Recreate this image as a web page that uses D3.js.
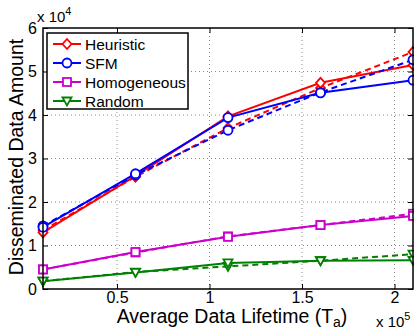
<!DOCTYPE html>
<html><head><meta charset="utf-8">
<script src="https://cdn.jsdelivr.net/npm/d3@7"></script>
<style>body{margin:0;background:#fff}svg{display:block}text{font-family:"Liberation Sans",Arial,sans-serif;fill:#000}</style>
</head><body>
<svg id="c" width="414" height="332"></svg>
<script>
const xValues = [0.1, 0.6, 1.1, 1.6, 2.1]; // x 10^5
const xTicks = [0.5, 1, 1.5, 2];
const yTicks = [0, 1, 2, 3, 4, 5, 6]; // x 10^4
const heuristicSolid = [1.30, 2.60, 3.97, 4.74, 5.15];
const heuristicDashed = [1.35, 2.58, 3.70, 4.62, 5.45];
const sfmSolid = [1.42, 2.65, 3.94, 4.51, 4.80];
const sfmDashed = [1.45, 2.62, 3.65, 4.52, 5.27];
const homoSolid = [0.45, 0.85, 1.20, 1.47, 1.68];
const homoDashed = [0.45, 0.84, 1.21, 1.47, 1.73];
const randomSolid = [0.18, 0.38, 0.60, 0.65, 0.66];
const randomDashed = [0.18, 0.39, 0.52, 0.65, 0.80];
const seriesNames = ["Heuristic", "SFM", "Homogeneous", "Random"];
const colors = ["#ff0000", "#0000ff", "#cc00cc", "#008000"];
const markers = ["diamond", "circle", "square", "triangle"];

const svg = d3.select("#c");
const L = 43, R = 413, T = 28, B = 289;
const x = d3.scaleLinear().domain([0.1, 2.1]).range([L, R]);
const y = d3.scaleLinear().domain([0, 6]).range([B, T]);

// grid
const g = svg.append("g");
g.selectAll(".gx").data(xTicks).join("line")
  .attr("x1", d => x(d)).attr("x2", d => x(d)).attr("y1", T).attr("y2", B)
  .attr("stroke", "#888").attr("stroke-width", 1).attr("stroke-dasharray", "1,3");
g.selectAll(".gy").data(yTicks.slice(1, -1)).join("line")
  .attr("x1", L).attr("x2", R).attr("y1", d => y(d)).attr("y2", d => y(d))
  .attr("stroke", "#888").attr("stroke-width", 1).attr("stroke-dasharray", "1,3");

// axes
const xAxis = d3.axisBottom(x).tickValues(xTicks).tickSize(-5).tickPadding(3).tickFormat(d => d3.format("")(d));
const yAxis = d3.axisLeft(y).tickValues(yTicks).tickSize(-5).tickPadding(6).tickFormat(d3.format("d"));
const gx = svg.append("g").attr("transform", `translate(0,${B})`).call(xAxis);
const gy = svg.append("g").attr("transform", `translate(${L},0)`).call(yAxis);
[gx, gy].forEach(a => { a.select(".domain").remove(); a.selectAll("text").style("font-size", "16px").attr("fill", "#000"); a.selectAll("line").attr("stroke", "#000"); });
// top / right ticks
svg.append("g").attr("transform", `translate(0,${T})`).call(d3.axisTop(x).tickValues(xTicks).tickSize(-5).tickFormat(""))
  .call(a => { a.select(".domain").remove(); a.selectAll("line").attr("stroke", "#000"); });
svg.append("g").attr("transform", `translate(${R},0)`).call(d3.axisRight(y).tickValues(yTicks).tickSize(-5).tickFormat(""))
  .call(a => { a.select(".domain").remove(); a.selectAll("line").attr("stroke", "#000"); });

// series
const data = [
  [heuristicSolid, heuristicDashed],
  [sfmSolid, sfmDashed],
  [homoSolid, homoDashed],
  [randomSolid, randomDashed]
];
const line = d3.line().x((d, i) => x(xValues[i])).y(d => y(d));
function marker(sel, type, color) {
  if (type === "circle") sel.append("circle").attr("r", 4.5);
  else if (type === "diamond") sel.append("path").attr("d", "M0,-5L4.5,0L0,5L-4.5,0Z");
  else if (type === "square") sel.append("rect").attr("x", -4).attr("y", -4).attr("width", 8).attr("height", 8);
  else sel.append("path").attr("d", "M-4.5,-3.5L4.5,-3.5L0,4.5Z");
  sel.selectAll("*").attr("fill", "#fff").attr("stroke", color).attr("stroke-width", 1.8);
}
const order = [3, 2, 0, 1];
order.forEach(si => {
  const [solid, dashed] = data[si];
  [[dashed, "6,4"], [solid, null]].forEach(([vals, dash]) => {
    svg.append("path").datum(vals).attr("d", line).attr("fill", "none")
      .attr("stroke", colors[si]).attr("stroke-width", 2).attr("stroke-dasharray", dash);
    vals.forEach((v, i) => {
      const m = svg.append("g").attr("transform", `translate(${x(xValues[i])},${y(v)})`);
      marker(m, markers[si], colors[si]);
    });
  });
});

// frame
svg.append("rect").attr("x", L).attr("y", T).attr("width", R - L).attr("height", B - T)
  .attr("fill", "none").attr("stroke", "#000").attr("stroke-width", 1.5);

// legend
const lg = svg.append("g");
lg.append("rect").attr("x", 47).attr("y", 33).attr("width", 141).attr("height", 76)
  .attr("fill", "#fff").attr("stroke", "#000").attr("stroke-width", 1.5);
seriesNames.forEach((n, i) => {
  const yy = 44 + i * 19;
  lg.append("line").attr("x1", 53).attr("x2", 81).attr("y1", yy).attr("y2", yy)
    .attr("stroke", colors[i]).attr("stroke-width", 2);
  const m = lg.append("g").attr("transform", `translate(67,${yy})`);
  marker(m, markers[i], colors[i]);
  lg.append("text").attr("x", 85).attr("y", yy + 5.5).style("font-size", "15.5px").text(n);
});

// labels
svg.append("text").attr("transform", "translate(23,157) rotate(-90)").attr("text-anchor", "middle")
  .style("font-size", "19.5px").text("Disseminated Data Amount");
const xl = svg.append("text").attr("x", 232).attr("y", 323).attr("text-anchor", "middle").style("font-size", "19.5px");
xl.append("tspan").text("Average Data Lifetime (T");
xl.append("tspan").attr("dy", 4).style("font-size", "14px").text("a");
xl.append("tspan").attr("dy", -4).text(")");
const e4 = svg.append("text").attr("x", 37).attr("y", 22).style("font-size", "15px");
e4.append("tspan").text("x 10");
e4.append("tspan").attr("dy", -7).style("font-size", "11px").text("4");
const e5 = svg.append("text").attr("x", 376).attr("y", 327).style("font-size", "15px");
e5.append("tspan").text("x 10");
e5.append("tspan").attr("dy", -7).style("font-size", "11px").text("5");
</script>
</body></html>
